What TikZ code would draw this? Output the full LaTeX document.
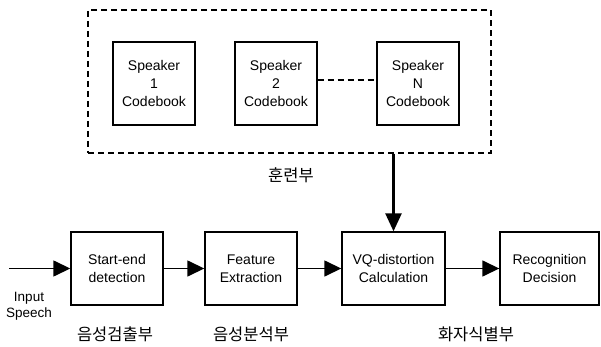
\documentclass[tikz,border=0pt]{standalone}
\usepackage{fontspec}
\setmainfont{Liberation Sans}
\newfontfamily\krfont{Noto Sans CJK KR}
\usepackage{tikz}
\usetikzlibrary{arrows.meta, positioning, calc}

\begin{document}
\begin{tikzpicture}[x=1pt, y=-1pt,
    box/.style={draw, line width=1.4pt, align=center, inner sep=0pt, font=\fontsize{14}{18}\selectfont},
    arr/.style={line width=1.5pt, -{Triangle[length=17pt, width=16pt]}},
    kr/.style={font=\krfont\fontsize{16.5}{18}\selectfont}]
    \useasboundingbox (0,0) rectangle (601,347);

    \node[draw, dashed, line width=1.2pt, dash pattern=on 6pt off 4pt, minimum width=403pt, minimum height=143pt] (train) at (289.5, 81.5) {};
    \node[box, minimum width=82pt, minimum height=83pt] (spk1) at (154, 83.5) {Speaker\\1\\Codebook};
    \node[box, minimum width=82pt, minimum height=83pt] (spk2) at (276, 83.5) {Speaker\\2\\Codebook};
    \node[box, minimum width=82pt, minimum height=83pt] (spkN) at (418, 83.5) {Speaker\\N\\Codebook};
    \draw[dashed, line width=1.2pt, dash pattern=on 6pt off 4pt] (spk2.east |- 0,80) -- (spkN.west |- 0,80);
    \node[kr] (trainlbl) at (291, 175) {훈련부};

    \node[box, minimum width=92pt, minimum height=73pt] (detect) at (117, 268.5) {Start-end\\detection};
    \node[box, minimum width=92pt, minimum height=73pt] (feat) at (251, 268.5) {Feature\\Extraction};
    \node[box, minimum width=103pt, minimum height=73pt] (vq) at (393.5, 268.5) {VQ-distortion\\Calculation};
    \node[box, minimum width=99pt, minimum height=73pt] (decide) at (549.5, 268.5) {Recognition\\Decision};

    \coordinate (in) at (9, 268.5);
    \node[align=center, font=\fontsize{13.5}{16}\selectfont] (inlbl) at (29, 306) {Input\\Speech};

    \draw[arr] (in) -- (detect.west);
    \draw[arr] (detect) -- (feat);
    \draw[arr] (feat) -- (vq);
    \draw[arr] (vq) -- (decide);
    \draw[line width=2.6pt, -{Triangle[length=18pt, width=16pt]}] (train.south -| vq.north) -- (vq.north);

    \node[kr] (detectlbl) at (115, 334) {음성검출부};
    \node[kr] (featlbl) at (251, 334) {음성분석부};
    \node[kr] (vqlbl) at (476, 334) {화자식별부};
\end{tikzpicture}
\end{document}
